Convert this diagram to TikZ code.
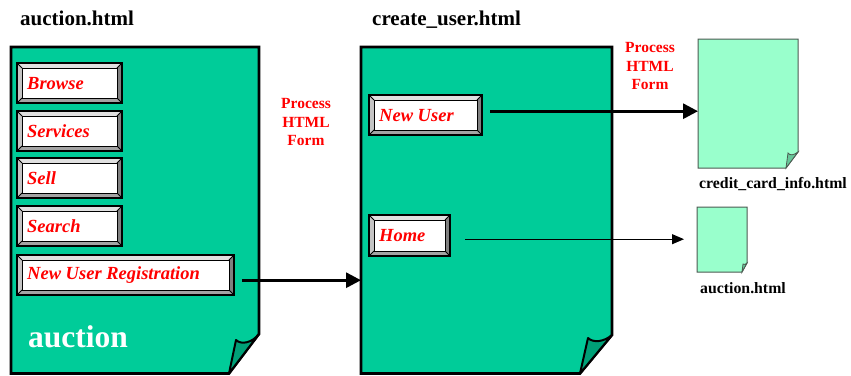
\documentclass[tikz,border=0pt]{standalone}
\usepackage{fontspec}
\setmainfont{Liberation Serif}
\usetikzlibrary{arrows.meta,calc}
\definecolor{pagegreen}{HTML}{00CC99}
\definecolor{curlgreen}{HTML}{00A077}
\definecolor{lightpage}{HTML}{99FFCC}
\definecolor{lightcurl}{HTML}{66C799}
\definecolor{lightedge}{HTML}{4D5A52}
\definecolor{bvtop}{HTML}{E0E0E0}
\definecolor{bvleft}{HTML}{C4C4C4}
\definecolor{bvright}{HTML}{808080}
\definecolor{bvbottom}{HTML}{A4A4A4}
\definecolor{formred}{HTML}{FF0000}
\tikzset{
  btntext/.style={text=formred, font=\bfseries\itshape\fontsize{18.5}{20}\selectfont, inner sep=0pt, anchor=west},
  procstyle/.style={text=formred, font=\bfseries\fontsize{15.5}{18.5}\selectfont, align=center, inner sep=0pt},
  titlestyle/.style={font=\bfseries\fontsize{21}{24}\selectfont, inner sep=0pt, anchor=base west},
  smalllabel/.style={font=\bfseries\fontsize{15.8}{18}\selectfont, inner sep=0pt, anchor=base},
  bigpage/.style={fill=pagegreen, draw=black, line width=2.6pt, line join=miter},
  bigcurl/.style={fill=curlgreen, draw=black, line width=2pt, line join=round},
  smallpage/.style={fill=lightpage, draw=lightedge, line width=1pt},
  smallcurl/.style={fill=lightcurl, draw=lightedge, line width=0.8pt},
  thickarrow/.style={line width=3pt, -{Triangle[length=15pt,width=15pt]}},
  thinarrow/.style={line width=1.1pt, -{Triangle[length=12pt,width=10pt]}},
  anchorbox/.style={inner sep=0pt, minimum width=#1, anchor=north west},
}
% name, x, y, w, h, text
\newcommand\bevelbtn[6]{%
  \fill[bvtop] (#2,#3) -- (#2+#4,#3) -- (#2+#4-5,#3+5) -- (#2+5,#3+5) -- cycle;
  \fill[bvright] (#2+#4,#3) -- (#2+#4,#3+#5) -- (#2+#4-5,#3+#5-5) -- (#2+#4-5,#3+5) -- cycle;
  \fill[bvbottom] (#2+#4,#3+#5) -- (#2,#3+#5) -- (#2+5,#3+#5-5) -- (#2+#4-5,#3+#5-5) -- cycle;
  \fill[bvleft] (#2,#3+#5) -- (#2,#3) -- (#2+5,#3+5) -- (#2+5,#3+#5-5) -- cycle;
  \draw[fill=white, line width=1pt] (#2+5,#3+5) rectangle (#2+#4-5,#3+#5-5);
  \draw[line width=1pt] (#2,#3) -- (#2+5,#3+5) (#2+#4,#3) -- (#2+#4-5,#3+5)
       (#2+#4,#3+#5) -- (#2+#4-5,#3+#5-5) (#2,#3+#5) -- (#2+5,#3+#5-5);
  \draw[line width=1.4pt] (#2,#3) rectangle (#2+#4,#3+#5);
  \node[anchorbox=#4pt, minimum height=#5pt] (#1) at (#2,#3) {};
  \node[btntext] (#1-t) at (#2+10,#3+#5/2+0.5) {#6};
}
\begin{document}
\begin{tikzpicture}[x=1pt,y=-1pt]
\useasboundingbox (0,0) rectangle (851,375);

% titles
\node[titlestyle] (t1) at (20,25.5) {auction.html};
\node[titlestyle] (t2) at (372,25.5) {create\_user.html};

% page 1
\node[anchorbox=249pt, minimum height=327pt] (p1) at (11,47) {};
\draw[bigpage] (11,47) -- (259,47) -- (259,334) -- (229,373.5) -- (11,373.5) -- cycle;
\draw[bigcurl] (229,373.5) -- (236,340) .. controls (241,345) and (252,343) .. (259,334) -- cycle;

% page 2
\node[anchorbox=251pt, minimum height=327pt] (p2) at (361,47) {};
\draw[bigpage] (361,47) -- (612,47) -- (612,335) -- (580,373.5) -- (361,373.5) -- cycle;
\draw[bigcurl] (580,373.5) -- (588,338) .. controls (593,343) and (604,342) .. (612,335) -- cycle;

% buttons page 1
\bevelbtn{browse}{17}{63}{105}{40}{Browse}
\bevelbtn{services}{17}{111}{105}{40}{Services}
\bevelbtn{sell}{17}{158}{105}{40}{Sell}
\bevelbtn{search}{17}{206}{105}{40}{Search}
\bevelbtn{nur}{17}{255}{217}{40}{New User Registration}

\node[anchor=base west, inner sep=0pt, text=white, font=\bfseries\fontsize{31.5}{34}\selectfont] (big) at (28,347) {auction};

% buttons page 2
\bevelbtn{newuser}{369}{95}{113}{40}{New User}
\bevelbtn{home}{369}{215}{81}{41}{Home}

% small pages
\node[anchorbox=100pt, minimum height=129pt] (cc) at (698,39) {};
\draw[smallpage] (698,39) -- (798,39) -- (798,152) -- (786,168) -- (698,168) -- cycle;
\draw[smallcurl] (786,168) -- (788,153) .. controls (790,156) and (794,155) .. (798,152) -- cycle;
\node[smalllabel] (cclabel) at (773,188) {credit\_card\_info.html};

\node[anchorbox=50pt, minimum height=65pt] (au) at (697,207) {};
\draw[smallpage] (697,207) -- (747,207) -- (747,263) -- (742,272) -- (697,272) -- cycle;
\draw[smallcurl] (742,272) -- (743,264) .. controls (744,265) and (746,264.5) .. (747,263) -- cycle;
\node[smalllabel] (aulabel) at (743,293) {auction.html};

% process labels
\node[procstyle] (proc1) at (306,122) {Process\\HTML\\Form};
\node[procstyle] (proc2) at (650,66) {Process\\HTML\\Form};

% connectors
\coordinate (a1s) at ($(nur.east)+(8,5)$);
\draw[thickarrow] (a1s) -- (a1s -| p2.west);
\coordinate (a2s) at ($(newuser.east)+(8,-4)$);
\draw[thickarrow] (a2s) -- (a2s -| cc.west);
\coordinate (a3s) at ($(home.east)+(15,3.5)$);
\draw[thinarrow] (a3s) -- ($(a3s -| au.west)+(-13,0)$);
\end{tikzpicture}
\end{document}
